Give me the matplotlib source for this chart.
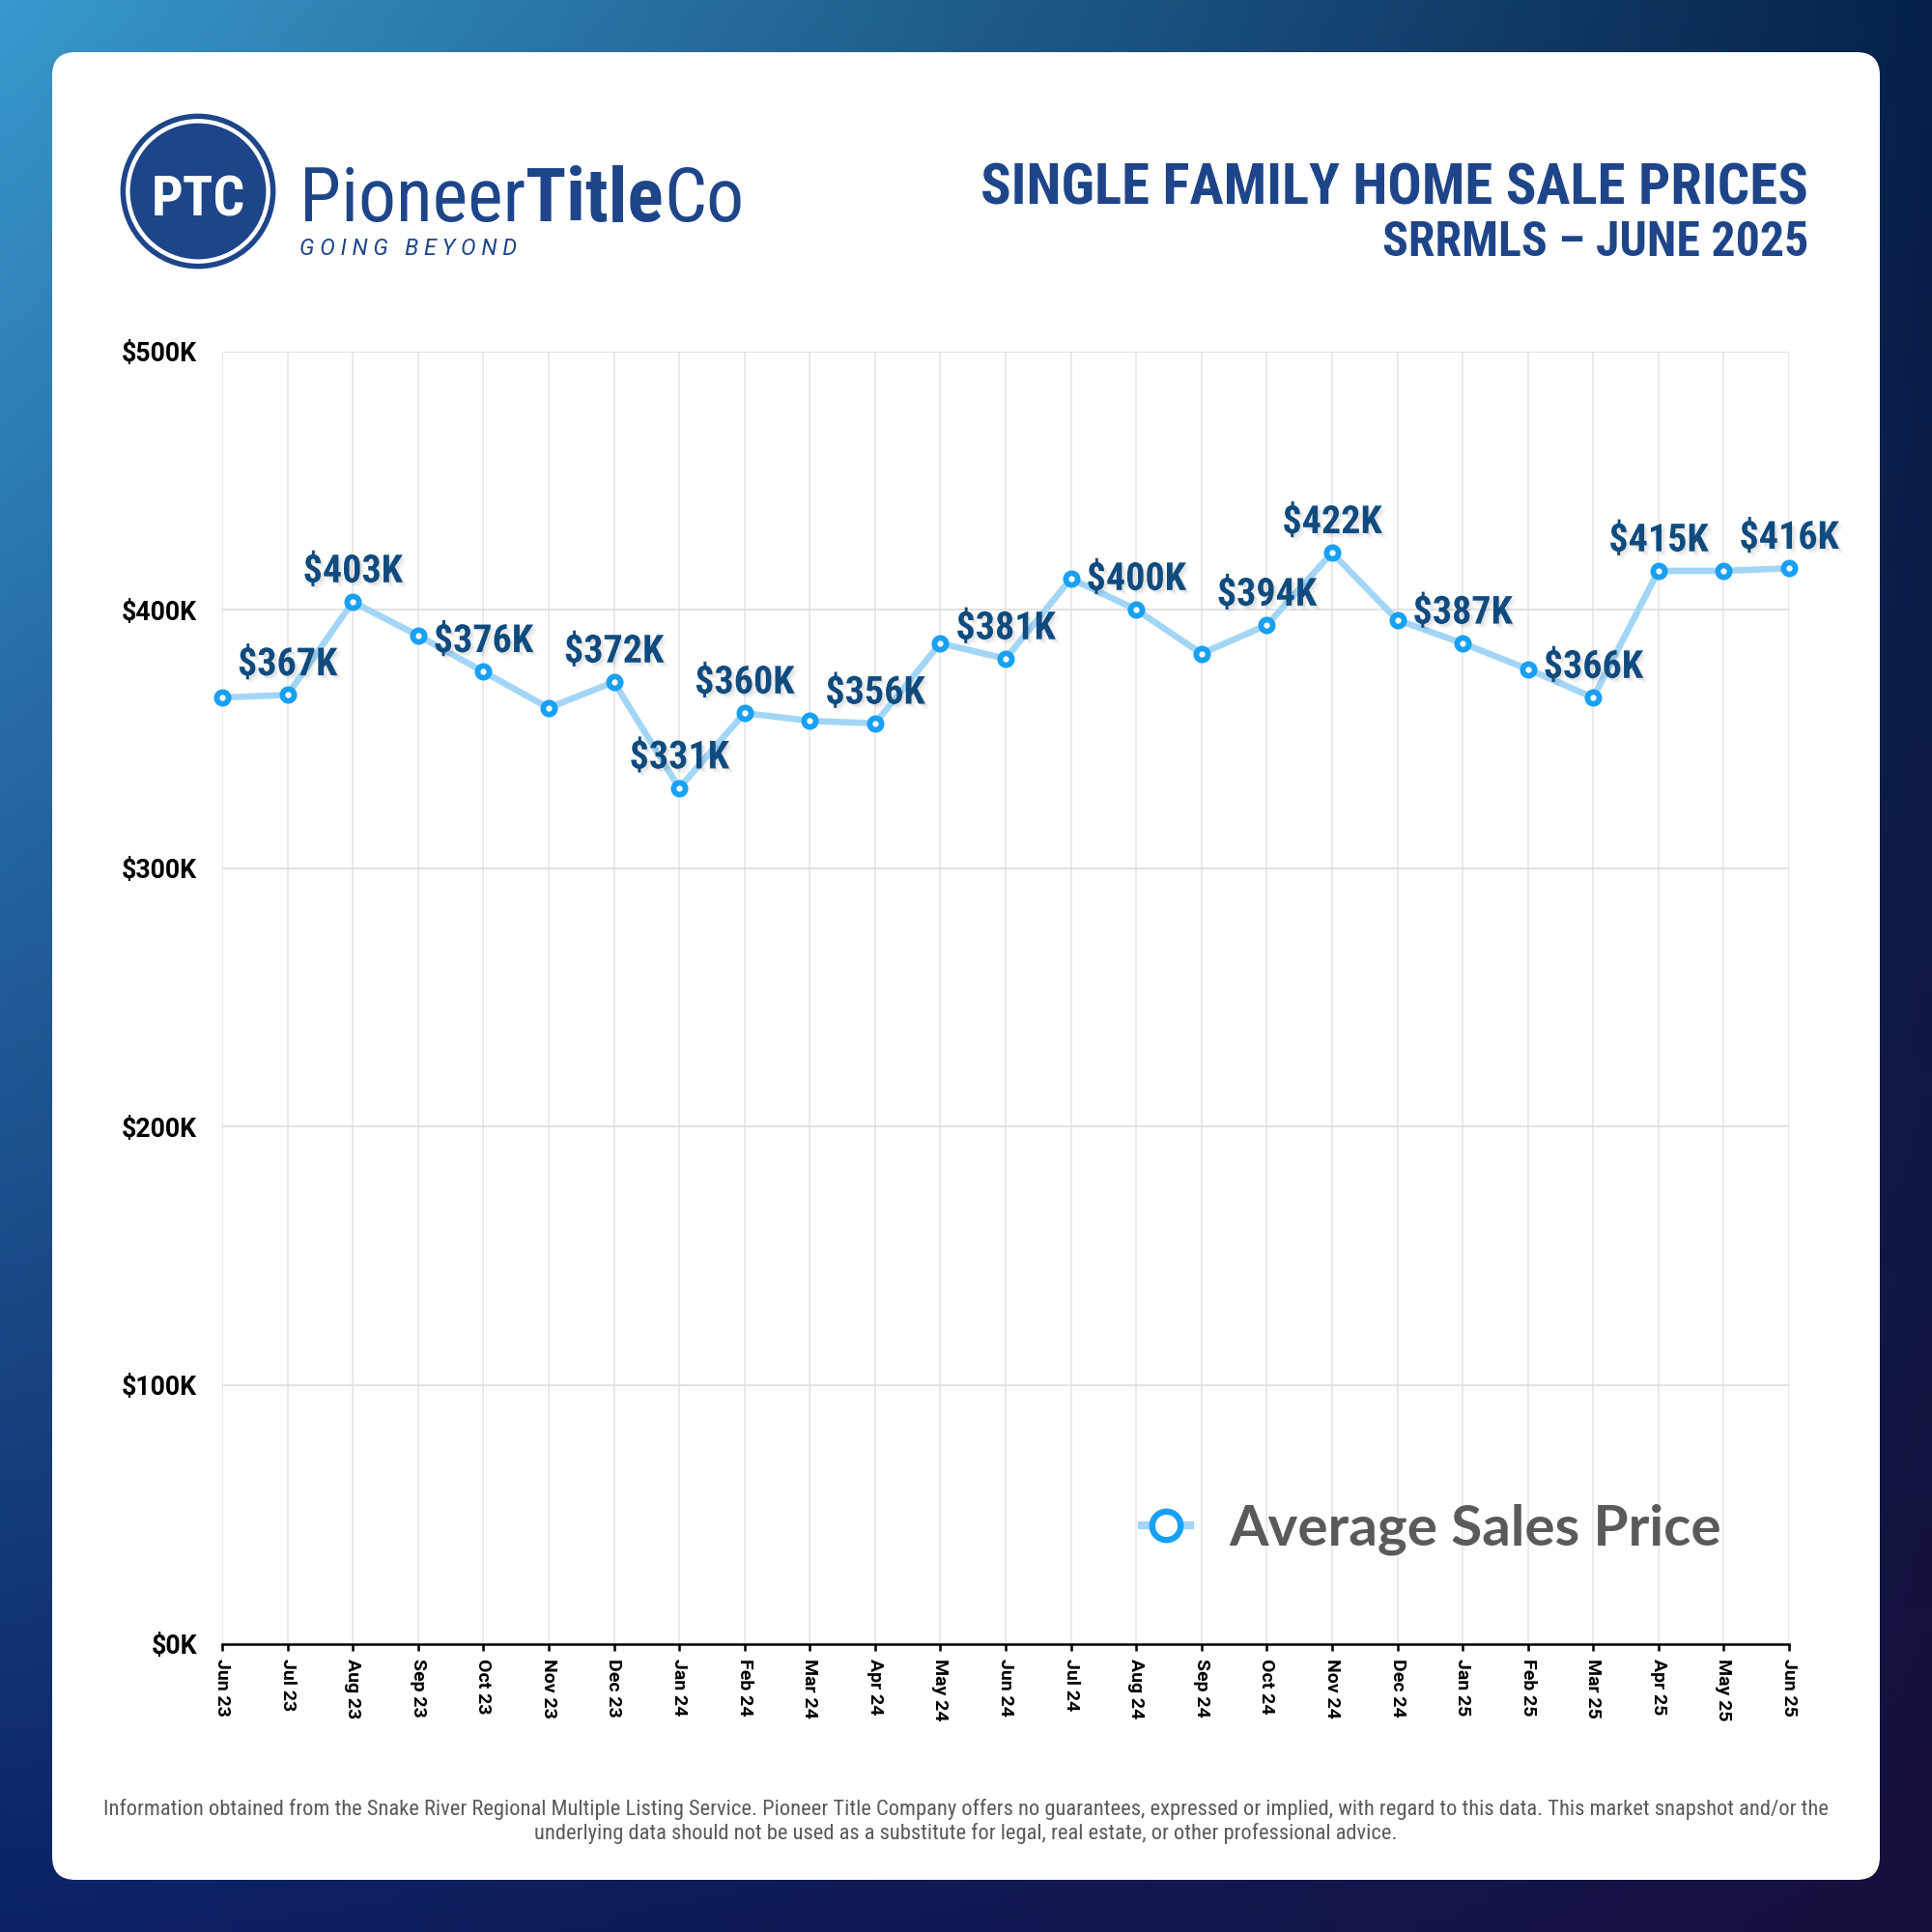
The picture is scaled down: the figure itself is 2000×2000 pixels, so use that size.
import os
import numpy as np
import matplotlib
matplotlib.use("Agg")
import matplotlib.pyplot as plt
from matplotlib import font_manager as fm
from matplotlib.font_manager import FontProperties
from matplotlib.patches import FancyBboxPatch, Circle
from matplotlib.lines import Line2D
import matplotlib.patheffects as pe

# ---------------- data ----------------
months = ["Jun 23", "Jul 23", "Aug 23", "Sep 23", "Oct 23", "Nov 23", "Dec 23",
          "Jan 24", "Feb 24", "Mar 24", "Apr 24", "May 24", "Jun 24", "Jul 24",
          "Aug 24", "Sep 24", "Oct 24", "Nov 24", "Dec 24", "Jan 25", "Feb 25",
          "Mar 25", "Apr 25", "May 25", "Jun 25"]
avg_price_k = [366, 367, 403, 390, 376, 362, 372, 331, 360, 357, 356, 387, 381,
               412, 400, 383, 394, 422, 396, 387, 377, 366, 415, 415, 416]
label_shown = [False, True, True, False, True, False, True, True, True, False,
               True, False, True, False, True, False, True, True, False, True,
               False, True, True, False, True]
y_ticks_k = [0, 100, 200, 300, 400, 500]
y_tick_labels = ["$0K", "$100K", "$200K", "$300K", "$400K", "$500K"]
series_name = "Average Sales Price"
title_text = "SINGLE FAMILY HOME SALE PRICES"
subtitle_text = "SRRMLS \u2013 JUNE 2025"
footer_lines = [
    "Information obtained from the Snake River Regional Multiple Listing Service. Pioneer Title Company offers no guarantees, expressed or implied, with regard to this data. This market snapshot and/or the",
    "underlying data should not be used as a substitute for legal, real estate, or other professional advice.",
]

# ---------------- fonts ----------------
W = H = 2000
DPI = 200

_wmap = {"thin": 100, "ultralight": 200, "extralight": 200, "light": 300,
         "normal": 400, "regular": 400, "book": 400, "medium": 500,
         "semibold": 600, "demibold": 600, "bold": 700, "extrabold": 800,
         "heavy": 900, "black": 900}


def _weight(e):
    w = e.weight
    if isinstance(w, str):
        return _wmap.get(w.lower(), 400)
    return int(w)


def find_condensed(target_w, fallback_weight):
    best = None
    for e in fm.fontManager.ttflist:
        base = os.path.basename(e.fname)
        tag = (e.name + " " + base).lower()
        st = e.stretch
        cond = ("condensed" in tag or "narrow" in tag or
                (isinstance(st, str) and "condensed" in st) or
                (isinstance(st, (int, float)) and st < 500))
        if not cond or e.style != "normal":
            continue
        w = _weight(e)
        if "roboto" in tag:
            rank = 0
        elif "open" in tag:
            rank = 1
        elif "noto" in tag:
            rank = 2
        elif "liberation" in tag:
            rank = 3
        elif "dejavu" in tag:
            rank = 4
        else:
            rank = 5
        key = (rank, abs(w - target_w))
        if best is None or key < best[0]:
            best = (key, e.fname)
    if best is not None:
        return FontProperties(fname=best[1])
    return FontProperties(family="DejaVu Sans", weight=fallback_weight,
                          stretch="condensed")


fp_cbold = find_condensed(700, "bold")
fp_cblack = find_condensed(850, "bold")
fp_creg = find_condensed(400, "normal")
fp_clight = find_condensed(350, "normal")
fp_tick = FontProperties(family=["Roboto", "DejaVu Sans"], weight="bold")
fp_legend = FontProperties(family=["Lato", "DejaVu Sans"], weight="bold")
fp_italic = FontProperties(family=["Roboto", "DejaVu Sans"], style="italic")

navy = "#1e4589"
label_color = "#0f4b7f"
line_color = "#a3d6f6"
marker_edge = "#18a0f3"

fig = plt.figure(figsize=(W / DPI, H / DPI), dpi=DPI)
renderer = fig.canvas.get_renderer()


def text_w(s, fp, size=10.0):
    f = fp.copy()
    f.set_size(size)
    w, h, d = renderer.get_text_width_height_descent(s, f, ismath=False)
    return w


def fit(s, fp, target_px):
    return 10.0 * target_px / text_w(s, fp, 10.0)


def sized(fp, size):
    f = fp.copy()
    f.set_size(size)
    return f


def fx(px):
    return px / W


def fy(py):
    return 1.0 - py / H


# ---------------- background ----------------
bg = fig.add_axes([0, 0, 1, 1], zorder=-10)
bg.set_xlim(0, 1)
bg.set_ylim(0, 1)
bg.axis("off")
n = 200
v, u = np.mgrid[0:n, 0:n] / (n - 1.0)
tl = np.array([0.22, 0.60, 0.80])
tr = np.array([0.02, 0.13, 0.29])
bl = np.array([0.04, 0.13, 0.40])
br = np.array([0.09, 0.06, 0.24])
img = ((1 - u)[..., None] * (1 - v)[..., None] * tl + u[..., None] * (1 - v)[..., None] * tr
       + (1 - u)[..., None] * v[..., None] * bl + u[..., None] * v[..., None] * br)
bg.imshow(img, extent=[0, 1, 0, 1], origin="upper", aspect="auto", zorder=0)

card = FancyBboxPatch((fx(54), fy(1946)), fx(1946) - fx(54), fy(54) - fy(1946),
                      boxstyle="round,pad=0,rounding_size=0.012",
                      transform=bg.transAxes, facecolor="white",
                      edgecolor="none", zorder=1)
bg.add_patch(card)

# ---------------- logo ----------------
cx, cy = fx(205), fy(198)
bg.add_patch(Circle((cx, cy), 79 / W, color=navy, zorder=2))
bg.add_patch(Circle((cx, cy), 73.5 / W, color="white", zorder=3))
bg.add_patch(Circle((cx, cy), 69 / W, color=navy, zorder=4))
s_ptc = fit("PTC", fp_cbold, 97)
bg.text(cx, fy(224), "PTC", fontproperties=sized(fp_cbold, s_ptc), color="white",
        ha="center", va="baseline", zorder=5)

parts = [("Pioneer", fp_creg), ("Title", fp_cbold), ("Co", fp_creg)]
tot10 = sum(text_w(s, f, 10.0) for s, f in parts)
s_logo = 10.0 * 458 / tot10
xpos = 310.0
for s, f in parts:
    bg.text(fx(xpos), fy(229), s, fontproperties=sized(f, s_logo), color=navy,
            ha="left", va="baseline", zorder=5)
    xpos += text_w(s, f, s_logo)

gb = "G O I N G   B E Y O N D"
s_gb = fit(gb, fp_italic, 226)
bg.text(fx(310), fy(264), gb, fontproperties=sized(fp_italic, s_gb), color=navy,
        ha="left", va="baseline", zorder=5)

# ---------------- titles ----------------
s_t1 = fit(title_text, fp_cblack, 858)
bg.text(fx(1872), fy(211), title_text, fontproperties=sized(fp_cblack, s_t1),
        color=navy, ha="right", va="baseline", zorder=5)
s_t2 = fit(subtitle_text, fp_cblack, 442)
bg.text(fx(1872), fy(265), subtitle_text, fontproperties=sized(fp_cblack, s_t2),
        color=navy, ha="right", va="baseline", zorder=5)

# ---------------- footer ----------------
s_f = fit(footer_lines[0], fp_clight, 1778)
bg.text(0.5, fy(1879), footer_lines[0], fontproperties=sized(fp_clight, s_f),
        color="#5a5a5a", ha="center", va="baseline", zorder=5)
bg.text(0.5, fy(1904), footer_lines[1], fontproperties=sized(fp_clight, s_f),
        color="#5a5a5a", ha="center", va="baseline", zorder=5)

# ---------------- chart ----------------
ax = fig.add_axes([fx(230), fy(1701.5), fx(1852) - fx(230), fy(363.5) - fy(1701.5)])
ax.set_facecolor("white")
x = np.arange(len(months))
line, = ax.plot(x, avg_price_k, color=line_color, lw=2.4, marker="o", ms=4.4,
                mew=2.1, mfc="white", mec=marker_edge, zorder=3,
                solid_joinstyle="round", clip_on=False, label=series_name)

s_lab = fit("$403K", fp_cbold, 103)
shadow = [pe.SimplePatchShadow(offset=(1.6, -1.6), shadow_rgbFace="black", alpha=0.05),
          pe.SimplePatchShadow(offset=(0.8, -0.8), shadow_rgbFace="black", alpha=0.06),
          pe.Normal()]
for xi, val, show in zip(x, avg_price_k, label_shown):
    if show:
        ax.annotate(f"${val}K", (xi, val), xytext=(0, 7.3), textcoords="offset points",
                    ha="center", va="baseline", color=label_color,
                    fontproperties=sized(fp_cbold, s_lab), path_effects=shadow,
                    zorder=4, annotation_clip=False)

ax.set_xlim(0, len(months) - 1)
ax.set_ylim(0, 500)
ax.set_xticks(x)
ax.set_xticklabels(months, rotation=-90, fontproperties=sized(fp_tick, 7.0))
ax.set_yticks(y_ticks_k)
ax.set_yticklabels(y_tick_labels, fontproperties=sized(fp_tick, 9.6))
ax.tick_params(axis="y", length=0, pad=9.4, colors="black")
ax.tick_params(axis="x", length=2.6, width=0.9, pad=3.0, colors="black", direction="out")
ax.grid(axis="x", color="#e6e6e6", lw=0.6, zorder=0)
ax.grid(axis="y", color="#dddddd", lw=0.6, zorder=0)
for side in ("top", "right", "left"):
    ax.spines[side].set_visible(False)
ax.spines["bottom"].set_color("black")
ax.spines["bottom"].set_linewidth(0.9)
ax.spines["bottom"].set_zorder(5)

# legend
s_leg = fit(series_name, fp_legend, 510)
handle = Line2D([], [], color=line_color, lw=3.0, marker="o", ms=10.6, mew=2.3,
                mfc="white", mec=marker_edge)
leg = ax.legend([handle], [series_name], loc="center",
                bbox_to_anchor=(fx(1482), fy(1583)), bbox_transform=fig.transFigure,
                frameon=False, borderpad=0, handlelength=0.85, handletextpad=0.7,
                prop=sized(fp_legend, s_leg), labelcolor="#5a5a5a")

fig.savefig("out.png", dpi=DPI)
